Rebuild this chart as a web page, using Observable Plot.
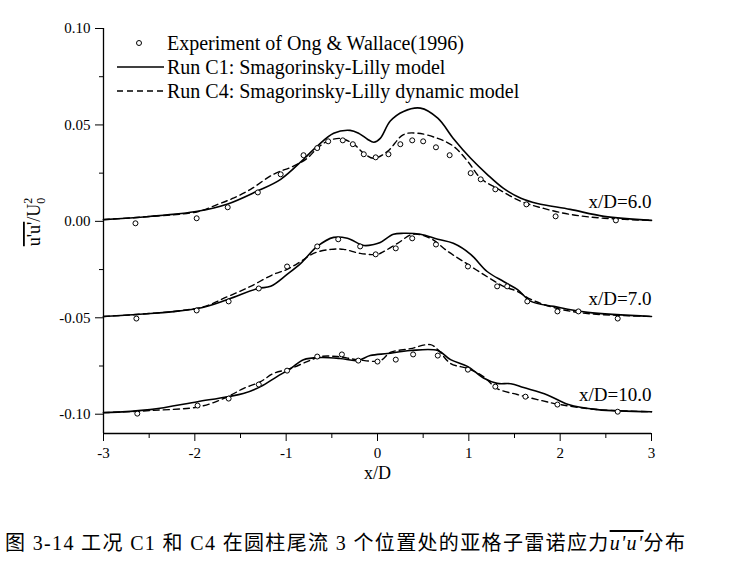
<!DOCTYPE html>
<html><head><meta charset="utf-8">
<script src="https://cdn.jsdelivr.net/npm/d3@7"></script>
<script src="https://cdn.jsdelivr.net/npm/@observablehq/plot@0.6"></script>
<style>
body{margin:0;background:#fff;width:731px;height:576px;overflow:hidden;position:relative;font-family:"Liberation Serif",serif;}
#caption{position:absolute;left:5px;top:531px;font-size:20px;line-height:24px;white-space:nowrap;font-family:"Liberation Serif","Noto Sans CJK SC",serif;letter-spacing:1.35px;color:#000;}
#caption .uu{text-decoration:overline;font-style:italic;font-family:"Liberation Serif",serif;}
</style></head><body>
<div id="chart"></div>
<div id="caption">图 3-14 工况 C1 和 C4 在圆柱尾流 3 个位置处的亚格子雷诺应力<span class="uu">u'u'</span>分布</div>
<script>
// ---- tick values ----
const xTicks = [-3, -2, -1, 0, 1, 2, 3];
const xMinor = [-2.5, -1.5, -0.5, 0.5, 1.5, 2.5];
const yTicks = [-0.10, -0.05, 0, 0.05, 0.10];
const yMinor = [-0.075, -0.025, 0.025, 0.075];

// ---- stations ----
const stationLabels = ["x/D=6.0", "x/D=7.0", "x/D=10.0"];
const stationOffsets = [0, -0.05, -0.10];

const legendLabels = [
  "Experiment of Ong & Wallace(1996)",
  "Run C1: Smagorinsky-Lilly model",
  "Run C4: Smagorinsky-Lilly dynamic model"
];

// ---- x/D = 6.0 ----
const c1_6 = [[-3.0,0.0009],[-2.5,0.0025],[-1.97,0.0052],[-1.64,0.009],[-1.32,0.0156],[-1.06,0.0218],[-0.81,0.0322],[-0.66,0.039],[-0.48,0.0457],[-0.30,0.0472],[-0.2,0.0455],[-0.11,0.0426],[-0.04,0.041],[0.03,0.043],[0.14,0.052],[0.285,0.057],[0.47,0.0587],[0.66,0.0535],[0.83,0.043],[1.02,0.0327],[1.2,0.0244],[1.38,0.0171],[1.57,0.012],[1.75,0.0093],[2.11,0.0062],[2.48,0.0026],[3.0,0.0005]];
const c4_6 = [[-3.0,0.0009],[-2.5,0.0025],[-1.97,0.005],[-1.75,0.0088],[-1.58,0.012],[-1.39,0.0166],[-1.14,0.0244],[-0.92,0.0286],[-0.77,0.0327],[-0.66,0.0379],[-0.55,0.0415],[-0.405,0.043],[-0.26,0.040],[-0.15,0.0353],[-0.04,0.0327],[0.11,0.0363],[0.285,0.045],[0.44,0.0457],[0.66,0.043],[0.83,0.039],[0.99,0.031],[1.13,0.0223],[1.31,0.0171],[1.57,0.0104],[1.82,0.0067],[2.11,0.0036],[2.48,0.0016],[3.0,0.0005]];
const exp_6 = [[-2.65,-0.001],[-1.98,0.0016],[-1.64,0.0073],[-1.31,0.015],[-1.06,0.0244],[-0.81,0.0343],[-0.66,0.038],[-0.54,0.0415],[-0.38,0.042],[-0.27,0.040],[-0.15,0.0348],[-0.02,0.0332],[0.12,0.0348],[0.25,0.040],[0.38,0.042],[0.50,0.0415],[0.64,0.0384],[0.79,0.0343],[1.02,0.025],[1.13,0.0218],[1.29,0.0166],[1.63,0.0088],[1.95,0.0026],[2.61,0.0005]];

// ---- x/D = 7.0 ----
const c1_7 = [[-3.0,-0.0493],[-1.97,-0.0452],[-1.64,-0.0405],[-1.31,-0.0348],[-1.17,-0.0337],[-0.99,-0.0275],[-0.84,-0.0218],[-0.66,-0.013],[-0.48,-0.0083],[-0.33,-0.0088],[-0.15,-0.0125],[-0.04,-0.012],[0.03,-0.011],[0.175,-0.0067],[0.285,-0.0062],[0.47,-0.0067],[0.66,-0.0093],[0.83,-0.0114],[1.02,-0.0171],[1.2,-0.026],[1.38,-0.0312],[1.53,-0.0353],[1.68,-0.0415],[1.93,-0.0441],[2.3,-0.0472],[3.0,-0.0493]];
const c4_7 = [[-3.0,-0.0493],[-1.94,-0.0447],[-1.64,-0.039],[-1.39,-0.0337],[-1.14,-0.0275],[-0.99,-0.0249],[-0.84,-0.0208],[-0.70,-0.0166],[-0.51,-0.0145],[-0.37,-0.0145],[-0.19,-0.0166],[0.0,-0.0171],[0.07,-0.0156],[0.22,-0.0114],[0.39,-0.0067],[0.58,-0.0088],[0.77,-0.0156],[0.94,-0.0208],[1.16,-0.0275],[1.38,-0.0337],[1.53,-0.0363],[1.68,-0.0405],[1.97,-0.0452],[2.3,-0.0478],[3.0,-0.0493]];
const exp_7 = [[-2.64,-0.0504],[-1.98,-0.0462],[-1.63,-0.0415],[-1.30,-0.0348],[-0.99,-0.0234],[-0.66,-0.013],[-0.43,-0.0093],[-0.19,-0.013],[-0.02,-0.0171],[0.20,-0.014],[0.38,-0.0088],[0.64,-0.012],[0.99,-0.0234],[1.31,-0.0337],[1.42,-0.0337],[1.64,-0.0415],[1.97,-0.0467],[2.20,-0.0467],[2.63,-0.0504]];

// ---- x/D = 10.0 ----
const c1_10 = [[-3.0,-0.0992],[-2.49,-0.0976],[-1.97,-0.0935],[-1.64,-0.0909],[-1.47,-0.0893],[-1.28,-0.0857],[-1.10,-0.0805],[-0.95,-0.0763],[-0.81,-0.0717],[-0.62,-0.0706],[-0.41,-0.0711],[-0.22,-0.0722],[-0.08,-0.0696],[0.11,-0.0685],[0.36,-0.067],[0.66,-0.067],[0.80,-0.0717],[0.99,-0.0753],[1.16,-0.0812],[1.31,-0.0840],[1.46,-0.0842],[1.60,-0.0862],[1.86,-0.0900],[2.09,-0.095],[2.41,-0.0976],[3.0,-0.0987]];
const c4_10 = [[-3.0,-0.0992],[-2.49,-0.0981],[-1.94,-0.096],[-1.64,-0.0909],[-1.47,-0.0867],[-1.28,-0.0831],[-1.14,-0.0789],[-0.95,-0.0763],[-0.77,-0.0727],[-0.62,-0.0701],[-0.44,-0.0701],[-0.22,-0.0717],[0.03,-0.0722],[0.14,-0.068],[0.36,-0.066],[0.58,-0.0639],[0.66,-0.0665],[0.80,-0.0737],[0.99,-0.0763],[1.16,-0.0805],[1.31,-0.0867],[1.53,-0.0898],[1.75,-0.0924],[2.0,-0.095],[2.41,-0.0976],[3.0,-0.0987]];
const exp_10 = [[-2.63,-0.0997],[-1.97,-0.0955],[-1.63,-0.0919],[-1.30,-0.0846],[-0.99,-0.0774],[-0.66,-0.0701],[-0.39,-0.069],[-0.21,-0.0722],[0.0,-0.0727],[0.20,-0.0717],[0.39,-0.069],[0.66,-0.0696],[0.99,-0.0769],[1.29,-0.0857],[1.62,-0.0909],[1.97,-0.095],[2.63,-0.0987]];

const solidSeries = [c1_6, c1_7, c1_10];
const dashSeries = [c4_6, c4_7, c4_10];
const expSeries = [exp_6, exp_7, exp_10];

const X = d => d[0], Y = d => d[1];
const FONT = "Liberation Serif";

const plot = Plot.plot({
  width: 731, height: 500,
  marginLeft: 103, marginRight: 80, marginTop: 28, marginBottom: 67,
  style: {fontFamily: FONT, fontSize: "15px", background: "white", color: "black", overflow: "visible"},
  x: {domain: [-3, 3]},
  y: {domain: [-0.11, 0.10]},
  marks: [
    Plot.axisX({ticks: xTicks, tickSize: 8, tickPadding: 6, tickFormat: d => String(d), label: null, fontSize: 15}),
    Plot.axisX({ticks: xMinor, tickSize: 5, tickFormat: () => "", label: null}),
    Plot.axisY({ticks: yTicks, tickSize: 8, tickPadding: 5, tickFormat: d => d.toFixed(2), label: null, fontSize: 15}),
    Plot.axisY({ticks: yMinor, tickSize: 4, tickFormat: () => "", label: null}),
    Plot.ruleX([-3], {stroke: "black", strokeWidth: 1.3}),
    Plot.ruleY([-0.11], {stroke: "black", strokeWidth: 1.3}),
    ...solidSeries.map(s => Plot.line(s, {x: X, y: Y, curve: "catmull-rom", stroke: "black", strokeWidth: 1.6})),
    ...dashSeries.map(s => Plot.line(s, {x: X, y: Y, curve: "catmull-rom", stroke: "black", strokeWidth: 1.4, strokeDasharray: "6,4"})),
    ...expSeries.map(s => Plot.dot(s, {x: X, y: Y, r: 2.5, stroke: "black", strokeWidth: 1, fill: "white"})),
    Plot.text(stationLabels, {x: () => 3, y: (d, i) => stationOffsets[i], text: d => d, textAnchor: "end", dy: -19, fontSize: 19, fill: "black"}),
    Plot.text(["x/D"], {frameAnchor: "bottom", dy: 45, fontSize: 18, fill: "black"})
  ]
});
document.getElementById("chart").appendChild(plot);

const svg = d3.select(plot);
// y-axis label
const yl = svg.append("text")
  .attr("transform", "translate(40,222) rotate(-90)")
  .attr("text-anchor", "middle")
  .attr("font-family", FONT).attr("font-size", 18).attr("fill", "black");
yl.append("tspan").attr("text-decoration", "overline").text("u'u'");
yl.append("tspan").text("/U");
yl.append("tspan").attr("font-size", 12).attr("dy", -8).text("2");
yl.append("tspan").attr("font-size", 12).attr("dx", -6).attr("dy", 13).text("0");

// legend
const lg = svg.append("g").attr("font-family", FONT).attr("font-size", 20).attr("fill", "black").attr("text-anchor", "start");
const rows = [43, 67, 91];
lg.append("circle").attr("cx", 139).attr("cy", rows[0]).attr("r", 2.5).attr("fill", "white").attr("stroke", "black");
lg.append("line").attr("x1", 117).attr("x2", 164).attr("y1", rows[1]).attr("y2", rows[1]).attr("stroke", "black").attr("stroke-width", 1.6);
lg.append("line").attr("x1", 117).attr("x2", 164).attr("y1", rows[2]).attr("y2", rows[2]).attr("stroke", "black").attr("stroke-width", 1.4).attr("stroke-dasharray", "6,4");
legendLabels.forEach((t, i) => {
  lg.append("text").attr("x", 167).attr("y", rows[i]).attr("dy", "0.34em").attr("text-anchor", "start").text(t);
});
</script>
</body></html>
